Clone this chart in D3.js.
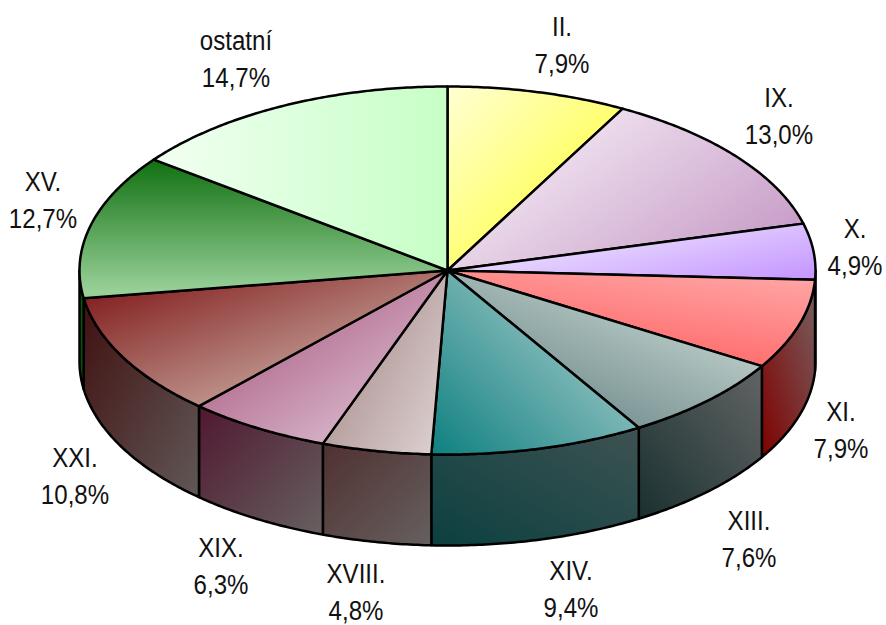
<!DOCTYPE html>
<html><head><meta charset="utf-8">
<script src="https://cdn.jsdelivr.net/npm/d3@7/dist/d3.min.js"></script>
<style>html,body{margin:0;background:#fff}svg{display:block}
text{font-family:"Liberation Sans",sans-serif;font-size:28px;fill:#111;text-anchor:middle}</style>
</head><body><svg id="c" width="886" height="625"></svg>
<script>
const categories=["II.","IX.","X.","XI.","XIII.","XIV.","XVIII.","XIX.","XXI.","XV.","ostatní"];
const shares=[7.9,13.0,4.9,7.9,7.6,9.4,4.8,6.3,10.8,12.7,14.7];
const topStart=["#ffffd4","#ecdcec","#e8d8ff","#ffaaaa","#b4c6c2","#0e8080","#b8a0a0","#b87898","#842222","#107010","#f2fff2"];
const topEnd=["#ffff70","#c89ec8","#c494ff","#ff7070","#7c9696","#7cb6b6","#dcd0d0","#d4aec4","#bc9088","#98d098","#c6ffc6"];
const topDir=[[0,0,.55,.55],[.49,0,1.17,.43],[0,.8,.758,1.34],[1,0,.555,.832],[1,.6,.62,1.02],[0,1,.624,.435],[0,.93,.6,1.39],[.375,.375,.75,.75],[.1,.1,.66,.66],[0,0,0,.95],[0,0,1,0]];
const sideStart=["#000","#000","#000","#800000","#1a3030","#0c4040","#503030","#501830","#401010","#0f500f","#000"];
const sideEnd=["#000","#000","#000","#776060","#626464","#3e5252","#666060","#666060","#605856","#0f500f","#000"];
const sideDir=[[0,1,1,0],[0,1,1,0],[0,1,1,0],[0,1,1,0],[0,1,1,0],[0,1,1,0],[0,0,1,1],[0,0,1,1],[0,0,1,1],[0,0,1,1],[0,0,1,1]];
const labelAt=[[562,26],[779,97],[855,228],[841,411],[749,520],[571,570],[356,573],[221,547],[75,457],[43,181],[236,40]];

const cx=447.5,cy=270.5,rx=368,ry=184,depth=91,textSqueeze=0.86,sw=2.5;
const svg=d3.select("#c");
const defs=svg.append("defs");
const X=d3.scaleLinear().domain([-1,1]).range([cx-rx,cx+rx]);
const Y=d3.scaleLinear().domain([-1,1]).range([cy-ry,cy+ry]);
const arcs=d3.pie().sort(null)(shares);
const pt=(a,dz=0)=>[X(Math.sin(a)),Y(-Math.cos(a))+dz];
const rim=(a0,a1,dz=0)=>{const n=Math.max(2,Math.ceil((a1-a0)/0.01));return d3.range(n+1).map(i=>pt(a0+(a1-a0)*i/n,dz));};
const line=d3.line();
function grad(id,c0,c1,d){
  const g=defs.append("linearGradient").attr("id",id).attr("x1",d[0]).attr("y1",d[1]).attr("x2",d[2]).attr("y2",d[3]);
  g.append("stop").attr("offset",0).attr("stop-color",c0);
  g.append("stop").attr("offset",1).attr("stop-color",c1);
}
const P=Math.PI;
arcs.forEach((s,i)=>{
  const a0=Math.max(s.startAngle,P/2),a1=Math.min(s.endAngle,3*P/2);
  if(a1<=a0)return;
  grad("s"+i,sideStart[i],sideEnd[i],sideDir[i]);
  const pts=rim(a0,a1).concat(rim(a0,a1,depth).reverse());
  svg.append("path").attr("d",line(pts)+"Z").attr("fill",`url(#s${i})`).attr("stroke","#000").attr("stroke-width",sw).attr("stroke-linejoin","round");
});
arcs.forEach((s,i)=>{
  grad("t"+i,topStart[i],topEnd[i],topDir[i]);
  const pts=[[cx,cy]].concat(rim(s.startAngle,s.endAngle));
  svg.append("path").attr("d",line(pts)+"Z").attr("fill",`url(#t${i})`).attr("stroke","#000").attr("stroke-width",sw).attr("stroke-linejoin","round");
});
categories.forEach((c,i)=>{
  const p=labelAt[i];
  const g=svg.append("g").attr("transform",`translate(${p[0]},${p[1]}) scale(${textSqueeze},1)`);
  g.append("text").attr("y",10).text(c);
  g.append("text").attr("y",47).text(d3.format(".1f")(shares[i]).replace(".",",")+"%");
});
</script></body></html>
